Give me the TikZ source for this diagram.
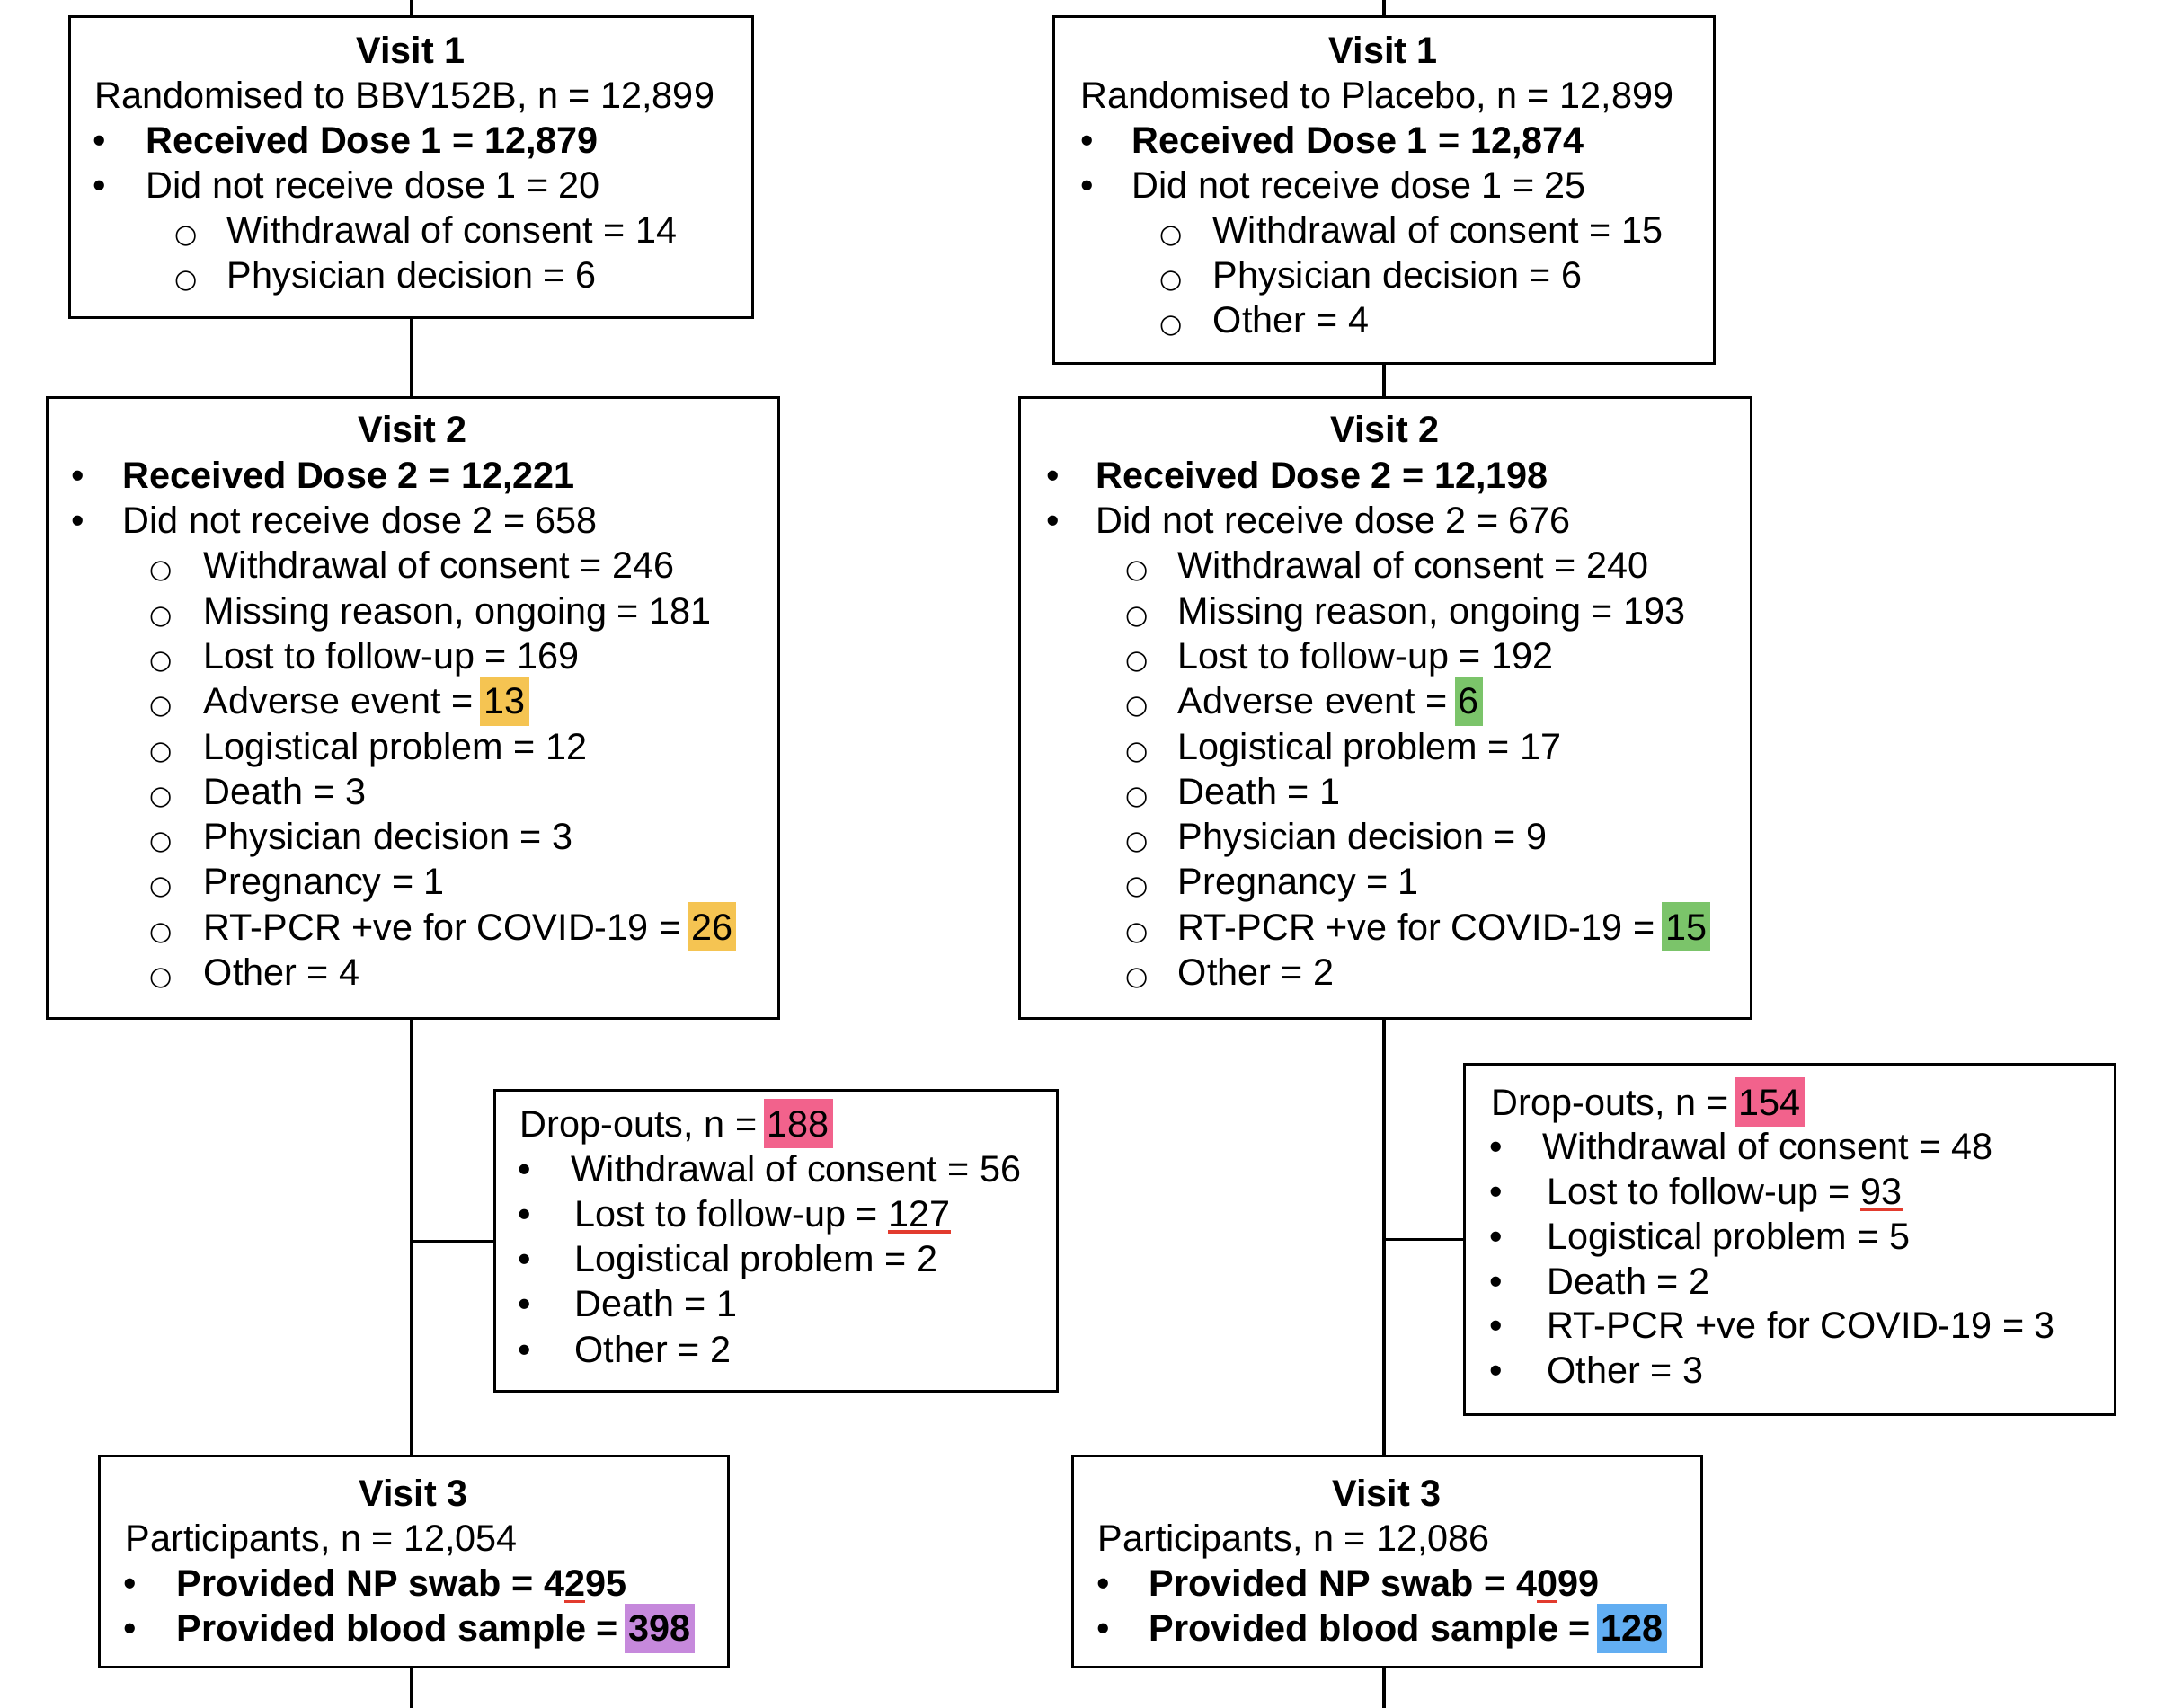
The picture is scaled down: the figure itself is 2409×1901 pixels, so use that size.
\documentclass[tikz,border=0pt]{standalone}
\usepackage{fontspec}
\setmainfont{Liberation Sans}
\newfontfamily\symfam{DejaVu Sans}
\usepackage{xcolor}
\newdimen\px \px=0.25pt
\definecolor{hlyellow}{HTML}{F5C452}
\definecolor{hlgreen}{HTML}{7BC46A}
\definecolor{hlpink}{HTML}{F2628C}
\definecolor{hlpurple}{HTML}{C689DC}
\definecolor{hlblue}{HTML}{62AEF2}
\definecolor{ulred}{HTML}{E23B2E}
\newcommand\cbox[1]{\hbox to 0pt{\hss#1\hss}}
\newcommand\bul{•}
\newcommand\circo{{\symfam\fontsize{29\px}{29\px}\selectfont ○}}
\newcommand\hl[2]{{\setlength\fboxsep{0pt}\kern-0.1em\colorbox{#1}{\rule[-0.31em]{0pt}{1.32em}\kern0.1em#2\kern0.1em}\kern-0.1em}}
\newcommand\rul[1]{{\setbox0\hbox{#1}\rlap{\color{ulred}\rule[-7.5\px]{\wd0}{3.5\px}}\box0}}
\newcommand\itm[4]{\hbox{\rlap{\kern#1\px\cbox{#2}}\kern#3\px #4}}
\newcommand\hd[2]{\hbox to #1\px{\hss\bfseries #2\hss}}
\newcommand\pl[2]{\hbox{\kern#1\px #2}}
\newcommand\lines[2]{\vtop{\baselineskip=#1\px\lineskiplimit=-\maxdimen #2}}
\begin{document}
\begin{tikzpicture}[x=0.25pt,y=-0.25pt,
  box/.style={draw=black,line width=3.2\px,rectangle,inner sep=0pt,anchor=north west},
  txt/.style={inner sep=0pt,anchor=base west,font=\fontsize{41.4\px}{50\px}\selectfont},
  conn/.style={draw=black,line width=3.2\px}]
\useasboundingbox (0,0) rectangle (2409,1901);
\fill[white] (0,0) rectangle (2409,1901);
% boxes
\node[box,minimum width=760\px,minimum height=335\px] (v1l) at (76,17) {};
\node[box,minimum width=735\px,minimum height=386\px] (v1r) at (1171,17) {};
\node[box,minimum width=814\px,minimum height=691\px] (v2l) at (51,441) {};
\node[box,minimum width=814\px,minimum height=691\px] (v2r) at (1133,441) {};
\node[box,minimum width=626\px,minimum height=335\px] (dol) at (549,1212) {};
\node[box,minimum width=724\px,minimum height=390\px] (dor) at (1628,1183) {};
\node[box,minimum width=700\px,minimum height=235\px] (v3l) at (109,1619) {};
\node[box,minimum width=700\px,minimum height=235\px] (v3r) at (1192,1619) {};
% end coordinates
\coordinate (topl) at (458,0);
\coordinate (topr) at (1540,0);
\coordinate (botl) at (458,1901);
\coordinate (botr) at (1540,1901);
% connectors left
\draw[conn] (topl) -- (topl |- v1l.north);
\draw[conn] (topl |- v1l.south) -- (topl |- v2l.north);
\draw[conn] (topl |- v2l.south) -- (topl |- v3l.north);
\draw[conn] (topl |- dol.west) -- (dol.west);
\draw[conn] (topl |- v3l.south) -- (botl);
% connectors right
\draw[conn] (topr) -- (topr |- v1r.north);
\draw[conn] (topr |- v1r.south) -- (topr |- v2r.north);
\draw[conn] (topr |- v2r.south) -- (topr |- v3r.north);
\draw[conn] (topr |- dor.west) -- (dor.west);
\draw[conn] (topr |- v3r.south) -- (botr);
% texts
\node[txt] (t1l) at (76,71) {\lines{50}{%
\hd{760}{Visit 1}
\pl{29}{Randomised to BBV152B, n = 12,899}
\itm{34}{\bul}{86}{\bfseries Received Dose 1 = 12,879}
\itm{34}{\bul}{86}{Did not receive dose 1 = 20}
\itm{130}{\circo}{176}{Withdrawal of consent = 14}
\itm{130}{\circo}{176}{Physician decision = 6}}};
\node[txt] (t1r) at (1171,71) {\lines{50}{%
\hd{735}{Visit 1}
\pl{31}{Randomised to Placebo, n = 12,899}
\itm{38}{\bul}{88}{\bfseries Received Dose 1 = 12,874}
\itm{38}{\bul}{88}{Did not receive dose 1 = 25}
\itm{131}{\circo}{178}{Withdrawal of consent = 15}
\itm{131}{\circo}{178}{Physician decision = 6}
\itm{131}{\circo}{178}{Other = 4}}};
\node[txt] (t2l) at (51,493) {\lines{50.3}{%
\hd{814}{Visit 2}
\itm{35}{\bul}{85}{\bfseries Received Dose 2 = 12,221}
\itm{35}{\bul}{85}{Did not receive dose 2 = 658}
\itm{127}{\circo}{175}{Withdrawal of consent = 246}
\itm{127}{\circo}{175}{Missing reason, ongoing = 181}
\itm{127}{\circo}{175}{Lost to follow-up = 169}
\itm{127}{\circo}{175}{Adverse event = \hl{hlyellow}{13}}
\itm{127}{\circo}{175}{Logistical problem = 12}
\itm{127}{\circo}{175}{Death = 3}
\itm{127}{\circo}{175}{Physician decision = 3}
\itm{127}{\circo}{175}{Pregnancy = 1}
\itm{127}{\circo}{175}{RT-PCR +ve for COVID-19 = \hl{hlyellow}{26}}
\itm{127}{\circo}{175}{Other = 4}}};
\node[txt] (t2r) at (1133,493) {\lines{50.3}{%
\hd{814}{Visit 2}
\itm{38}{\bul}{86}{\bfseries Received Dose 2 = 12,198}
\itm{38}{\bul}{86}{Did not receive dose 2 = 676}
\itm{131}{\circo}{177}{Withdrawal of consent = 240}
\itm{131}{\circo}{177}{Missing reason, ongoing = 193}
\itm{131}{\circo}{177}{Lost to follow-up = 192}
\itm{131}{\circo}{177}{Adverse event = \hl{hlgreen}{6}}
\itm{131}{\circo}{177}{Logistical problem = 17}
\itm{131}{\circo}{177}{Death = 1}
\itm{131}{\circo}{177}{Physician decision = 9}
\itm{131}{\circo}{177}{Pregnancy = 1}
\itm{131}{\circo}{177}{RT-PCR +ve for COVID-19 = \hl{hlgreen}{15}}
\itm{131}{\circo}{177}{Other = 2}}};
\node[txt] (tdl) at (549,1265) {\lines{50.2}{%
\pl{29}{Drop-outs, n = \hl{hlpink}{188}}
\itm{34}{\bul}{86}{Withdrawal of consent = 56}
\itm{34}{\bul}{90}{Lost to follow-up = \rul{127}}
\itm{34}{\bul}{90}{Logistical problem = 2}
\itm{34}{\bul}{90}{Death = 1}
\itm{34}{\bul}{90}{Other = 2}}};
\node[txt] (tdr) at (1628,1241) {\lines{49.8}{%
\pl{31}{Drop-outs, n = \hl{hlpink}{154}}
\itm{36}{\bul}{88}{Withdrawal of consent = 48}
\itm{36}{\bul}{93}{Lost to follow-up = \rul{93}}
\itm{36}{\bul}{93}{Logistical problem = 5}
\itm{36}{\bul}{93}{Death = 2}
\itm{36}{\bul}{93}{RT-PCR +ve for COVID-19 = 3}
\itm{36}{\bul}{93}{Other = 3}}};
\node[txt] (t3l) at (109,1676) {\lines{50.3}{%
\hd{700}{Visit 3}
\pl{30}{Participants, n = 12,054}
\itm{35}{\bul}{87}{\bfseries Provided NP swab = 4\rul{2}95}
\itm{35}{\bul}{87}{\bfseries Provided blood sample = \hl{hlpurple}{398}}}};
\node[txt] (t3r) at (1192,1676) {\lines{50.3}{%
\hd{700}{Visit 3}
\pl{29}{Participants, n = 12,086}
\itm{35}{\bul}{86}{\bfseries Provided NP swab = 4\rul{0}99}
\itm{35}{\bul}{86}{\bfseries Provided blood sample = \hl{hlblue}{128}}}};
\end{tikzpicture}
\end{document}
